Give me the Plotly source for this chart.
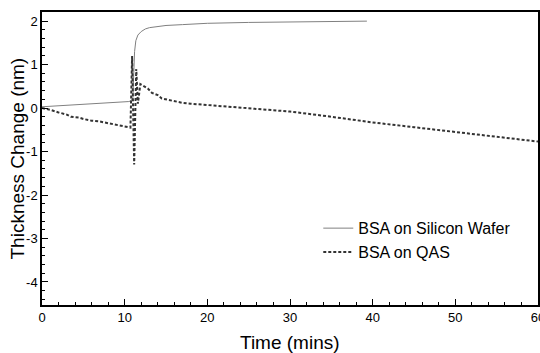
import plotly.graph_objects as go

# --- data ---
si_time = [0, 1, 2, 3, 4, 5, 6, 7, 8, 9, 10, 10.5, 10.8, 11.0, 11.1, 11.2, 11.35,
           11.6, 12.0, 12.5, 13, 14, 15, 17, 20, 25, 30, 35, 39.3]
si_thick = [0.03, 0.04, 0.05, 0.06, 0.07, 0.08, 0.09, 0.10, 0.11, 0.12, 0.14, 0.15, 0.17, 0.25,
            0.8, 1.3, 1.55, 1.68, 1.76, 1.82, 1.85, 1.88, 1.90, 1.92, 1.95, 1.97, 1.98, 1.99, 2.0]

qas_time = [0, 1, 2, 3, 3.5, 4.5, 5, 6, 7, 8, 9, 10, 10.7, 10.9, 11.15, 11.4, 11.6, 11.9,
            12.3, 12.8, 13.3, 14, 14.5, 15, 16, 17, 18, 20, 22, 25, 28, 30, 35, 40, 45,
            50, 55, 60]
qas_thick = [0.0, -0.04, -0.1, -0.15, -0.2, -0.22, -0.25, -0.29, -0.31, -0.35, -0.38, -0.42,
             -0.45, 1.2, -1.3, 0.9, 0.1, 0.55, 0.5, 0.45, 0.35, 0.3, 0.22, 0.2, 0.15, 0.12,
             0.1, 0.07, 0.03, 0.0, -0.05, -0.08, -0.2, -0.33, -0.44, -0.55, -0.65, -0.77]

x_ticks = [0, 10, 20, 30, 40, 50, 60]
y_ticks = [2, 1, 0, -1, -2, -3, -4]

FONT = "Liberation Sans Narrow, Liberation Sans, Arial, sans-serif"
TFONT = "Liberation Sans, Arial, sans-serif"

fig = go.Figure()
fig.add_trace(go.Scatter(x=si_time, y=si_thick, mode="lines", name="BSA on Silicon Wafer",
                         line=dict(color="#808080", width=1)))
fig.add_trace(go.Scatter(x=qas_time, y=qas_thick, mode="lines", name="BSA on QAS",
                         line=dict(color="#333333", width=2, dash="3px,2px")))

fig.update_layout(
    width=540, height=353,
    margin=dict(l=42, r=2, t=12, b=48),
    paper_bgcolor="white", plot_bgcolor="white",
    font=dict(family=FONT, color="black", size=13),
    legend=dict(x=0.557, y=0.32, xanchor="left", yanchor="top",
                bgcolor="rgba(0,0,0,0)", font=dict(family=TFONT, size=16),
                tracegroupgap=0, itemwidth=30),
    showlegend=True,
    annotations=[
        dict(text="Time (mins)", xref="paper", yref="paper", x=0.5, y=-0.085,
             xanchor="center", yanchor="top", showarrow=False,
             font=dict(family=TFONT, size=19)),
        dict(text="Thickness Change (nm)", xref="paper", yref="paper", x=-0.0484, y=0.5,
             xanchor="center", yanchor="middle", showarrow=False, textangle=-90,
             font=dict(family=TFONT, size=19)),
    ],
)
fig.update_xaxes(
    range=[0, 60], tickvals=x_ticks, ticktext=[str(v) for v in x_ticks],
    showline=True, linecolor="black", linewidth=1.5, mirror=True,
    ticks="inside", ticklen=6, tickcolor="black", automargin=False,
    ticklabeloverflow="allow",
    minor=dict(dtick=2, ticks="inside", ticklen=3, tickcolor="black"),
    showgrid=False, zeroline=False,
)
fig.update_yaxes(
    range=[-4.53, 2.21], tickvals=y_ticks, ticktext=[str(v) for v in y_ticks],
    showline=True, linecolor="black", linewidth=1.5, mirror=True,
    ticks="inside", ticklen=6, tickcolor="black", automargin=False,
    ticklabeloverflow="allow",
    minor=dict(dtick=0.2, ticks="inside", ticklen=3, tickcolor="black"),
    showgrid=False, zeroline=False,
)

fig.write_html("out.html", config={"displayModeBar": False},
               post_script="document.body.style.margin='0';")
